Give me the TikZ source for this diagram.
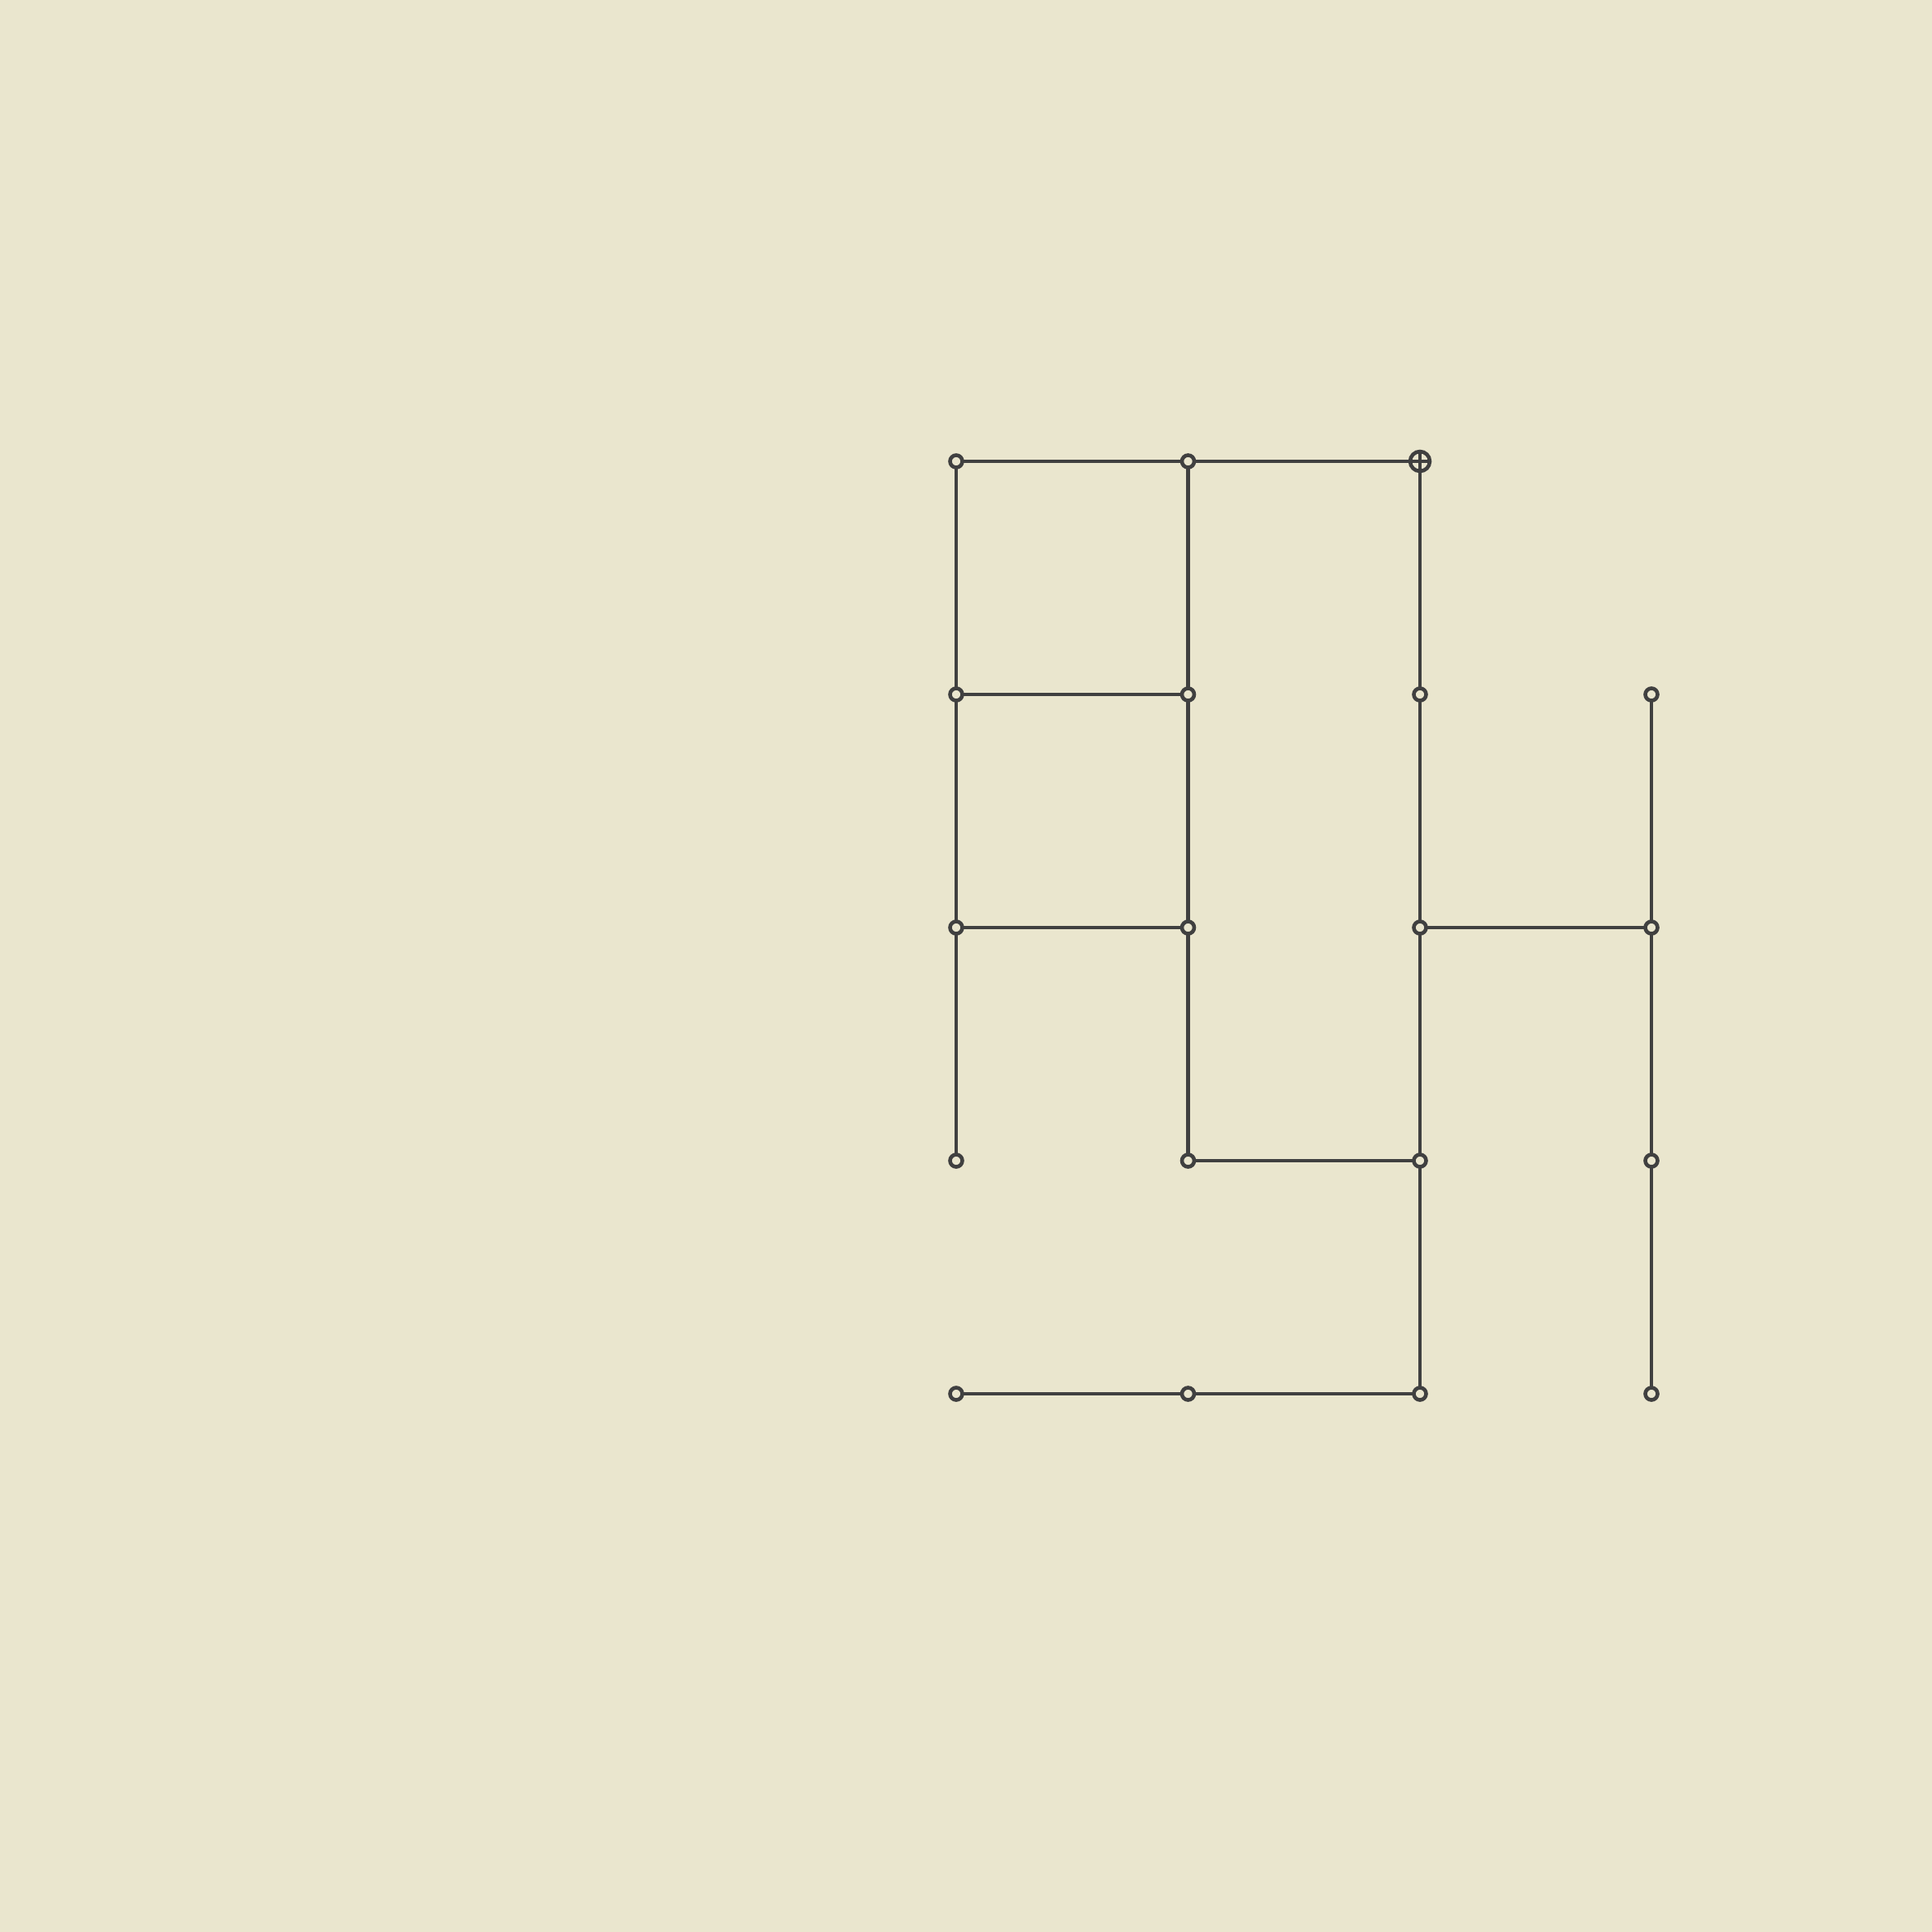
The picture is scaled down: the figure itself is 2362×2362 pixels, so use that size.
\documentclass[tikz,border=0pt]{standalone}
\definecolor{bg}{RGB}{234,230,206}
\definecolor{ink}{RGB}{64,64,64}
\begin{document}
\begin{tikzpicture}[x=0.01cm,y=-0.01cm,
  pt/.style={circle,draw=ink,fill=bg,line width=1.3pt,inner sep=0pt,minimum size=0.15cm},
  root/.style={circle,draw=ink,fill=bg,line width=1.3pt,inner sep=0pt,minimum size=0.24cm,
    path picture={\draw[ink,line width=0.9pt] (path picture bounding box.north) -- (path picture bounding box.south)
      (path picture bounding box.west) -- (path picture bounding box.east);}},
  edge/.style={draw=ink,line width=1.25pt}]
\fill[bg] (0,0) rectangle (2362,2362);
\useasboundingbox (0,0) rectangle (2362,2362);
\def\xa{1169}\def\xb{1452.5}\def\xc{1736}\def\xd{2019}
\def\ya{564}\def\yb{849}\def\yc{1134}\def\yd{1419}\def\ye{1704}
% coordinates
\foreach \c/\x in {0/\xa,1/\xb,2/\xc,3/\xd}{
  \foreach \r/\y in {0/\ya,1/\yb,2/\yc,3/\yd,4/\ye}{
    \coordinate (p\c\r) at (\x,\y);
  }}
% edges
\path[edge] (p00) -- (p10) (p10) -- (p20);
\path[edge] (p00) -- (p01) (p01) -- (p02) (p02) -- (p03);
\path[edge] (p10) -- (p11) (p11) -- (p12) (p12) -- (p13);
\path[edge] (p20) -- (p21) (p21) -- (p22) (p22) -- (p23) (p23) -- (p24);
\path[edge] (p31) -- (p32) (p32) -- (p33) (p33) -- (p34);
\path[edge] (p01) -- (p11);
\path[edge] (p02) -- (p12) (p22) -- (p32);
\path[edge] (p13) -- (p23);
\path[edge] (p04) -- (p14) (p14) -- (p24);
% nodes
\foreach \n in {00,01,02,03,04,10,11,12,13,14,21,22,23,24,31,32,33,34}{
  \node[pt] (n\n) at (p\n) {};
}
\node[root] (n20) at (p20) {};
\end{tikzpicture}
\end{document}
